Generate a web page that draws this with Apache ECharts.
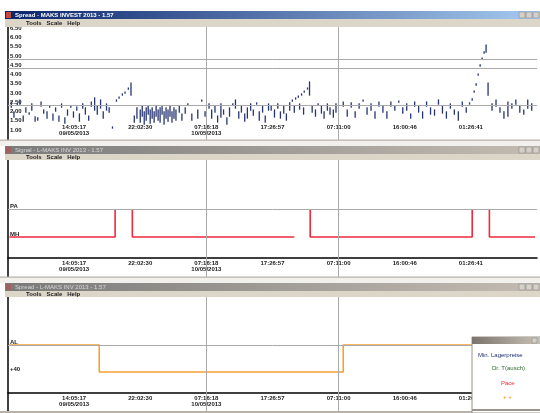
<!DOCTYPE html>
<html><head><meta charset="utf-8">
<script src="https://cdn.jsdelivr.net/npm/echarts@6/dist/echarts.min.js"></script>
<style>html,body{margin:0;padding:0;background:#fff}#c{width:540px;height:413px}</style>
</head><body><div id="c"></div>
<script>
// ---- tick labels ----
const xTickLabels = ["14:05:17\n09/05/2013", "22:02:30", "07:16:18\n10/05/2013", "17:26:57", "07:11:00", "16:00:46", "01:26:41"];
const yLabels1 = ["1.00", "1.50", "2.00", "2.50", "3.00", "3.50", "4.00", "4.50", "5.00", "5.50", "6.00", "6.50"];
const yLabels2 = { "0": "MH", "1": "PA" };
const yLabels3 = { "0": "+40", "1": "AL" };

// ---- panel 1: spread samples (time, low, high) ----
const times1 = [-0.95,-0.91,-0.86,-0.82,-0.77,-0.73,-0.68,-0.64,-0.59,-0.55,-0.50,-0.46,-0.41,-0.37,-0.32,-0.28,-0.23,-0.19,-0.14,-0.10,-0.05,-0.01,0.04,0.08,0.13,0.17,0.22,0.26,0.31,0.35,0.40,0.44,0.49,0.53,0.58,
 0.64,0.68,0.73,0.77,0.82,0.86,0.91,
 0.95,1.00,1.03,1.06,1.09,1.12,1.15,1.18,1.21,1.24,1.27,1.30,1.33,1.36,1.39,1.42,1.45,1.48,1.51,1.54,1.59,1.63,1.68,1.72,
 1.78,1.87,1.93,1.98,
 2.04,2.08,2.13,2.17,2.22,2.26,2.31,2.35,2.40,2.44,2.49,2.53,2.58,2.62,2.67,2.71,2.76,2.80,2.85,2.89,2.94,
 2.98,3.03,3.08,3.12,3.17,3.21,3.26,
 3.30,3.33,3.35,3.39,3.41,3.44,3.47,3.48,3.53,3.56,
 3.60,3.65,3.69,3.74,3.78,3.83,3.87,3.92,3.96,
 4.07,4.13,4.19,4.25,4.31,4.37,4.43,4.49,4.55,4.61,4.67,4.73,4.79,4.85,4.91,4.97,5.03,5.09,5.15,5.21,5.27,5.33,5.39,5.45,5.51,5.57,5.63,5.69,5.75,5.81,5.87,5.93,
 5.98,6.02,6.05,6.08,6.11,6.14,6.17,6.20,6.23,6.26,
 6.32,6.38,6.44,6.50,6.56,6.62,6.68,6.74,6.80,6.86,6.92];
const lows1 = [2.80,1.73,3.02,3.13,1.29,2.27,2.05,2.48,1.29,1.40,2.91,2.16,1.62,2.80,1.40,2.37,1.29,2.80,1.08,1.94,2.80,1.73,2.48,1.29,2.70,2.05,1.40,2.91,2.48,2.05,2.70,1.62,2.48,2.27,0.54,
 3.45,3.78,4.10,4.31,4.75,4.10,1.19,
 1.62,1.19,1.83,0.97,1.40,2.05,1.08,1.62,1.19,1.83,1.40,1.19,2.05,0.97,1.62,1.29,1.83,1.19,1.62,1.40,2.27,1.40,2.16,3.02,
 1.40,1.62,3.45,1.83,
 2.70,1.62,2.27,1.19,1.73,2.05,0.97,1.83,3.02,2.70,1.62,2.27,1.29,1.62,2.48,1.94,3.13,1.40,2.27,1.19,2.48,
 2.48,1.73,2.70,1.62,2.16,1.40,2.48,
 3.45,2.27,3.67,3.88,2.59,4.10,2.05,4.42,4.75,4.10,
 2.27,1.83,3.02,2.16,1.62,2.48,2.05,1.73,2.27,
 2.91,1.83,2.80,1.73,2.70,3.45,2.05,2.48,1.62,2.91,2.27,1.62,2.91,2.48,3.34,2.16,2.48,1.62,2.91,2.27,1.62,2.91,2.05,1.94,3.13,2.16,1.62,2.70,2.05,1.40,2.91,2.27,
 3.13,3.56,4.42,5.18,6.26,7.23,7.98,8.63,8.74,4.10,
 2.48,2.91,2.27,1.62,1.83,2.70,3.13,2.27,2.05,2.70,2.48];
const highs1 = [3.34,2.27,3.13,3.56,1.83,2.70,2.16,3.13,1.73,1.62,3.34,2.48,2.27,2.91,2.05,2.70,1.83,3.13,1.62,2.48,2.91,2.27,2.80,2.05,3.13,2.70,1.83,3.34,3.78,2.91,3.56,2.27,3.13,2.70,0.65,
 3.56,3.88,4.21,4.42,4.85,5.39,1.83,
 2.70,2.48,2.91,2.27,2.70,2.91,2.48,2.70,2.27,2.91,2.48,2.70,2.91,2.27,2.70,2.48,2.91,2.27,2.70,2.48,2.91,2.05,2.70,3.13,
 2.05,2.48,3.56,2.27,
 3.13,2.48,2.91,1.83,3.13,2.48,1.62,2.70,3.13,3.56,2.27,2.91,2.05,2.70,3.13,2.48,3.24,2.27,2.91,1.83,3.13,
 2.91,2.48,3.13,2.27,2.91,2.05,3.24,
 3.56,2.91,3.78,3.99,3.13,4.21,2.70,4.53,4.85,5.50,
 2.91,2.48,3.13,2.91,2.27,3.13,2.70,2.48,3.13,
 3.34,2.48,3.24,2.27,3.13,3.56,2.70,3.13,2.27,3.34,2.91,2.27,3.34,2.91,3.45,2.70,3.13,2.05,3.34,2.91,2.27,3.34,2.70,2.48,3.56,2.91,2.27,3.13,2.48,2.27,3.34,2.70,
 3.24,3.67,4.53,5.29,6.36,7.34,8.09,8.74,9.49,5.39,
 3.13,3.56,2.70,2.27,3.34,3.13,3.56,2.91,2.48,3.56,3.13];

// ---- panel 2: red signal ----
const redTimes = [-0.98, 0.62, 0.62, 0.75, 0.88, 0.88, 3.33, 3.45, 3.57, 3.57, 6.02, 6.02, 6.15, 6.28, 6.28, 6.97];
const redValues = [0, 0, 1, null, 1, 0, 0, null, 1, 0, 0, 1, null, 1, 0, 0];

// ---- panel 3: orange signal ----
const orangeTimes = [-0.98, 0.38, 0.38, 4.07, 4.07, 6.97];
const orangeValues = [1, 1, 0, 0, 1, 1];

// ---- grid line positions ----
const vLines = [2, 4];
const hLines1 = [3, 7, 8];
const hLines2 = [1];
const hLines3 = [1];

const FONT = 'Liberation Sans';
const chart = echarts.init(document.getElementById('c'), null, { renderer: 'canvas' });

function xAx(grid, offset) {
  return {
    type: 'value', gridIndex: grid, min: -1, max: 7, interval: 1, offset: offset,
    axisLine: { show: grid > 0, onZero: false, lineStyle: { color: '#000', width: 1.5 } },
    axisTick: { show: false }, splitLine: { show: false },
    axisLabel: {
      formatter: v => xTickLabels[Math.round(v)] || '', fontSize: 6, fontWeight: 'bold',
      color: '#1a1a1a', margin: 2, lineHeight: 6, fontFamily: FONT
    }
  };
}
function yAx(grid, min, max, interval, fmt) {
  return {
    type: 'value', gridIndex: grid, min: min, max: max, interval: interval,
    axisLine: { show: true, onZero: false, lineStyle: { color: '#000', width: 1.5 } },
    axisTick: { show: false }, splitLine: { show: false },
    axisLabel: { inside: true, verticalAlign: 'bottom', formatter: fmt, fontSize: 6, fontWeight: 'bold',
      color: '#1a1a1a', margin: 2, fontFamily: FONT }
  };
}
function gridMarks(hs) {
  const d = vLines.map(v => ({ xAxis: v })).concat(hs.map(h => ({ yAxis: h })));
  return { silent: true, symbol: 'none', label: { show: false }, animation: false,
    lineStyle: { color: '#a9a9a9', width: 1, type: 'solid' }, data: d };
}

const option = {
  animation: false,
  backgroundColor: '#ffffff',
  grid: [
    { left: 8, width: 531, top: 26.9, height: 115.4 },
    { left: 8, width: 531, top: 160, height: 119 },
    { left: 8, width: 531, top: 297, height: 115.5 }
  ],
  xAxis: [ xAx(0, -20), xAx(1, -21), xAx(2, -19.5) ],
  yAxis: [
    yAx(0, -1, 11.45, 1, v => yLabels1[Math.round(v)] || ''),
    yAx(1, -1.5, 2.75, 0.5, v => yLabels2[String(v)] || ''),
    yAx(2, -1.5, 2.78, 0.5, v => yLabels3[String(v)] || '')
  ],
  series: [
    { type: 'line', xAxisIndex: 0, yAxisIndex: 0, data: [], markLine: gridMarks(hLines1) },
    {
      type: 'custom', xAxisIndex: 0, yAxisIndex: 0,
      data: times1.map((t, i) => [t, lows1[i], highs1[i]]),
      encode: { x: 0, y: [1, 2] },
      renderItem: function (params, api) {
        const a = api.coord([api.value(0), api.value(1)]);
        const b = api.coord([api.value(0), api.value(2)]);
        return { type: 'line', shape: { x1: a[0], y1: a[1], x2: b[0], y2: b[1] },
          style: { stroke: '#263472', lineWidth: 1.3, lineCap: 'square' } };
      }
    },
    {
      type: 'line', xAxisIndex: 1, yAxisIndex: 1, showSymbol: false, connectNulls: false,
      data: redTimes.map((t, i) => [t, redValues[i]]),
      lineStyle: { color: '#ee2a3c', width: 1.6 }, itemStyle: { color: '#ee2a3c' },
      markLine: gridMarks(hLines2), z: 3
    },
    {
      type: 'line', xAxisIndex: 2, yAxisIndex: 2, showSymbol: false,
      data: orangeTimes.map((t, i) => [t, orangeValues[i]]),
      lineStyle: { color: '#f5a032', width: 1.6 }, itemStyle: { color: '#f5a032' },
      markLine: gridMarks(hLines3), z: 3
    }
  ],
  graphic: { elements: [
    // panel 1 chrome
    { type: 'rect', z: 100, shape: { x: 5, y: 11, width: 535, height: 8 },
      style: { fill: new echarts.graphic.LinearGradient(0, 0, 1, 0, [{ offset: 0, color: '#0a246a' }, { offset: 1, color: '#a6caf0' }]) } },
    { type: 'rect', z: 101, shape: { x: 6, y: 12, width: 5, height: 6 }, style: { fill: '#c8483c' } },
    { type: 'text', z: 101, x: 15, y: 15, style: { text: 'Spread - MAKS INVEST 2013 - 1.57', fill: '#ffffff', fontSize: 6, fontWeight: 'bold', fontFamily: FONT, verticalAlign: 'middle' } },
    { type: 'rect', z: 101, shape: { x: 519, y: 12, width: 6, height: 6 }, style: { fill: '#d4d0c8', stroke: '#808080', lineWidth: 0.5 } },
    { type: 'rect', z: 101, shape: { x: 526, y: 12, width: 6, height: 6 }, style: { fill: '#d4d0c8', stroke: '#808080', lineWidth: 0.5 } },
    { type: 'rect', z: 101, shape: { x: 533, y: 12, width: 6, height: 6 }, style: { fill: '#d4d0c8', stroke: '#808080', lineWidth: 0.5 } },
    { type: 'rect', z: 100, shape: { x: 5, y: 19, width: 535, height: 8 }, style: { fill: '#dcd6c9' } },
    { type: 'text', z: 101, x: 26, y: 23, style: { text: 'Tools   Scale   Help', fill: '#222', fontSize: 6, fontWeight: 'bold', fontFamily: FONT, verticalAlign: 'middle' } },
    // separator 1
    { type: 'rect', z: 100, shape: { x: 0, y: 140, width: 540, height: 6 }, style: { fill: '#f2f0ec' } },
    { type: 'rect', z: 101, shape: { x: 0, y: 139.5, width: 540, height: 1.2 }, style: { fill: '#b8b2a8' } },
    // panel 2 chrome
    { type: 'rect', z: 100, shape: { x: 5, y: 146, width: 535, height: 8 },
      style: { fill: new echarts.graphic.LinearGradient(0, 0, 1, 0, [{ offset: 0, color: '#7a7a7a' }, { offset: 1, color: '#c4bcb2' }]) } },
    { type: 'rect', z: 101, shape: { x: 6, y: 147, width: 5, height: 6 }, style: { fill: '#a06060' } },
    { type: 'text', z: 101, x: 15, y: 150, style: { text: 'Signal - L-MAKS INV 2013 - 1.57', fill: '#d8d8d8', fontSize: 6, fontFamily: FONT, verticalAlign: 'middle' } },
    { type: 'rect', z: 101, shape: { x: 519, y: 147, width: 6, height: 6 }, style: { fill: '#d4d0c8', stroke: '#808080', lineWidth: 0.5 } },
    { type: 'rect', z: 101, shape: { x: 526, y: 147, width: 6, height: 6 }, style: { fill: '#d4d0c8', stroke: '#808080', lineWidth: 0.5 } },
    { type: 'rect', z: 101, shape: { x: 533, y: 147, width: 6, height: 6 }, style: { fill: '#d4d0c8', stroke: '#808080', lineWidth: 0.5 } },
    { type: 'rect', z: 100, shape: { x: 5, y: 154, width: 535, height: 6 }, style: { fill: '#dcd6c9' } },
    { type: 'text', z: 101, x: 26, y: 157, style: { text: 'Tools   Scale   Help', fill: '#222', fontSize: 6, fontWeight: 'bold', fontFamily: FONT, verticalAlign: 'middle' } },
    // separator 2
    { type: 'rect', z: 100, shape: { x: 0, y: 277, width: 540, height: 6 }, style: { fill: '#f2f0ec' } },
    { type: 'rect', z: 101, shape: { x: 0, y: 276.5, width: 540, height: 1.2 }, style: { fill: '#b8b2a8' } },
    // panel 3 chrome
    { type: 'rect', z: 100, shape: { x: 5, y: 283, width: 535, height: 8 },
      style: { fill: new echarts.graphic.LinearGradient(0, 0, 1, 0, [{ offset: 0, color: '#7a7a7a' }, { offset: 1, color: '#c4bcb2' }]) } },
    { type: 'rect', z: 101, shape: { x: 6, y: 284, width: 5, height: 6 }, style: { fill: '#a06060' } },
    { type: 'text', z: 101, x: 15, y: 287, style: { text: 'Spread - L-MAKS INV 2013 - 1.57', fill: '#d8d8d8', fontSize: 6, fontFamily: FONT, verticalAlign: 'middle' } },
    { type: 'rect', z: 101, shape: { x: 519, y: 284, width: 6, height: 6 }, style: { fill: '#d4d0c8', stroke: '#808080', lineWidth: 0.5 } },
    { type: 'rect', z: 101, shape: { x: 526, y: 284, width: 6, height: 6 }, style: { fill: '#d4d0c8', stroke: '#808080', lineWidth: 0.5 } },
    { type: 'rect', z: 101, shape: { x: 533, y: 284, width: 6, height: 6 }, style: { fill: '#d4d0c8', stroke: '#808080', lineWidth: 0.5 } },
    { type: 'rect', z: 100, shape: { x: 5, y: 291, width: 535, height: 6 }, style: { fill: '#dcd6c9' } },
    { type: 'text', z: 101, x: 26, y: 294, style: { text: 'Tools   Scale   Help', fill: '#222', fontSize: 6, fontWeight: 'bold', fontFamily: FONT, verticalAlign: 'middle' } },
    // bottom edge
    { type: 'rect', z: 101, shape: { x: 0, y: 411, width: 540, height: 2 }, style: { fill: '#b8b2a8' } },
    // legend box
    { type: 'rect', z: 110, shape: { x: 472, y: 337, width: 70, height: 76 }, style: { fill: '#ffffff', stroke: '#9a948a', lineWidth: 1 } },
    { type: 'rect', z: 111, shape: { x: 472, y: 337, width: 68, height: 7 },
      style: { fill: new echarts.graphic.LinearGradient(0, 0, 1, 0, [{ offset: 0, color: '#7a746c' }, { offset: 1, color: '#c8c0b6' }]) } },
    { type: 'rect', z: 112, shape: { x: 532, y: 338, width: 5, height: 5 }, style: { fill: '#d4d0c8', stroke: '#808080', lineWidth: 0.5 } },
    { type: 'text', z: 112, x: 478, y: 355, style: { text: 'Min. Lagerpreise', fill: '#1e2f7a', fontSize: 6, fontFamily: FONT, verticalAlign: 'middle' } },
    { type: 'text', z: 112, x: 492, y: 368, style: { text: 'Dr. T(ausch)', fill: '#2e6b2e', fontSize: 6, fontFamily: FONT, verticalAlign: 'middle' } },
    { type: 'text', z: 112, x: 501, y: 383, style: { text: 'Pace', fill: '#ee2a3c', fontSize: 6, fontFamily: FONT, verticalAlign: 'middle' } },
    { type: 'text', z: 112, x: 503, y: 397, style: { text: '+ +', fill: '#f5a032', fontSize: 6, fontWeight: 'bold', fontFamily: FONT, verticalAlign: 'middle' } },
    { type: 'rect', z: 112, shape: { x: 472, y: 409, width: 68, height: 2 }, style: { fill: '#9a948a' } }
  ] }
};
chart.setOption(option);
</script></body></html>
